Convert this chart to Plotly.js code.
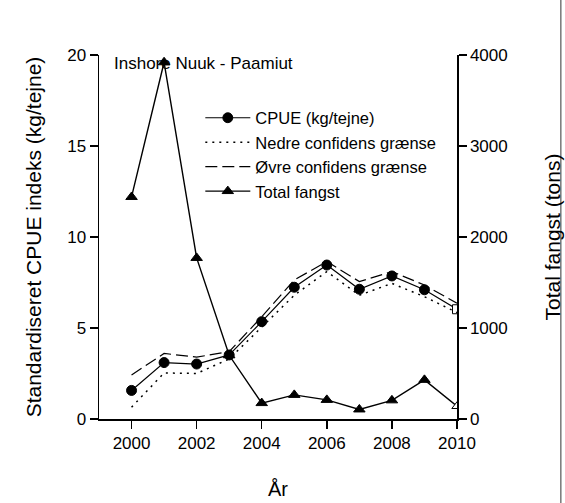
<!DOCTYPE html>
<html>
<head>
<meta charset="utf-8">
<script src="https://cdn.plot.ly/plotly-3.0.1.min.js"></script>
<style>html,body{margin:0;padding:0;background:#fff;}</style>
</head>
<body>
<div id="chart" style="width:565px;height:503px;"></div>
<script>
const years = [2000, 2001, 2002, 2003, 2004, 2005, 2006, 2007, 2008, 2009, 2010];
const cpue = [1.57, 3.1, 3.02, 3.52, 5.35, 7.24, 8.46, 7.13, 7.86, 7.1, 6.03];
const lowerCI = [0.65, 2.53, 2.5, 3.3, 5.05, 6.8, 8.1, 6.8, 7.45, 6.72, 5.85];
const upperCI = [2.42, 3.6, 3.4, 3.7, 5.62, 7.64, 8.65, 7.55, 8.1, 7.36, 6.36];
const totalCatch = [2440, 3920, 1770, 700, 175, 265, 210, 105, 205, 430, 140];
const xTicks = [2000, 2002, 2004, 2006, 2008, 2010];
const leftTicks = [0, 5, 10, 15, 20];
const rightTicks = [0, 1000, 2000, 3000, 4000];

const FONT = 'Liberation Sans, Arial, sans-serif';
const n = years.length;
const fillArr = (c, last) => years.map((_, i) => i === n - 1 ? last : c);

const traces = [
  {
    x: years, y: cpue, name: 'CPUE (kg/tejne)', mode: 'lines+markers',
    line: {color: '#000', width: 1.2},
    marker: {symbol: fillArr('circle', 'square'), size: fillArr(10, 9), opacity: 1,
             color: fillArr('#000', '#fff'), line: {color: '#000', width: 1}}
  },
  {
    x: years, y: lowerCI, name: 'Nedre confidens grænse', mode: 'lines',
    line: {color: '#000', width: 1.5, dash: '2px,5px'}
  },
  {
    x: years, y: upperCI, name: 'Øvre confidens grænse', mode: 'lines',
    line: {color: '#000', width: 1.2, dash: '12px,5px'}
  },
  {
    x: years, y: totalCatch, name: 'Total fangst', mode: 'lines+markers', yaxis: 'y2',
    line: {color: '#000', width: 1.4},
    marker: {symbol: fillArr('triangle-up', 'triangle-up'), size: fillArr(10, 9), opacity: 1,
             color: fillArr('#000', '#fff'), line: {color: '#000', width: 1}}
  }
];

const layout = {
  width: 565, height: 503,
  margin: {l: 99, r: 108, t: 55, b: 84},
  paper_bgcolor: '#fff', plot_bgcolor: '#fff',
  font: {family: FONT, size: 17, color: '#000'},
  showlegend: true,
  legend: {x: 0.283, y: 0.875, xanchor: 'left', yanchor: 'top', bgcolor: 'rgba(0,0,0,0)',
           font: {family: FONT, size: 16.5, color: '#000'}, itemwidth: 45, tracegroupgap: 0},
  xaxis: {
    range: [1999, 2010], tickvals: xTicks, ticktext: xTicks.map(String),
    showline: true, linecolor: '#000', linewidth: 1.5, ticks: 'outside', ticklen: 8, tickwidth: 1.5,
    tickcolor: '#000', showgrid: false, zeroline: false, mirror: false,
    tickfont: {family: FONT, size: 17},
    title: {text: 'År', font: {family: FONT, size: 20}, standoff: 30}
  },
  yaxis: {
    range: [0, 20], tickvals: leftTicks, showline: true, linecolor: '#000', linewidth: 1.5,
    ticks: 'outside', ticklen: 8, tickwidth: 1.5, tickcolor: '#000', showgrid: false, zeroline: false,
    tickfont: {family: FONT, size: 17},
    title: {text: 'Standardiseret CPUE indeks (kg/tejne)', font: {family: FONT, size: 21}, standoff: 20}
  },
  yaxis2: {
    range: [0, 4000], tickvals: rightTicks, overlaying: 'y', side: 'right',
    showline: true, linecolor: '#000', linewidth: 1.5,
    ticks: 'outside', ticklen: 8, tickwidth: 1.5, tickcolor: '#000', showgrid: false, zeroline: false,
    tickfont: {family: FONT, size: 17},
    title: {text: 'Total fangst (tons)', font: {family: FONT, size: 21}, standoff: 38}
  },
  annotations: [
    {text: 'Inshore Nuuk - Paamiut', xref: 'paper', yref: 'paper', x: 0.035, y: 0.978,
     xanchor: 'left', yanchor: 'middle', showarrow: false, font: {family: FONT, size: 17, color: '#000'}}
  ],
  shapes: [
    {type: 'line', xref: 'paper', yref: 'paper', x0: 1.29, x1: 1.29, y0: -0.3, y1: 1.2,
     line: {color: '#777', width: 1.5}}
  ]
};

Plotly.newPlot('chart', traces, layout, {displayModeBar: false, staticPlot: true});
</script>
</body>
</html>
